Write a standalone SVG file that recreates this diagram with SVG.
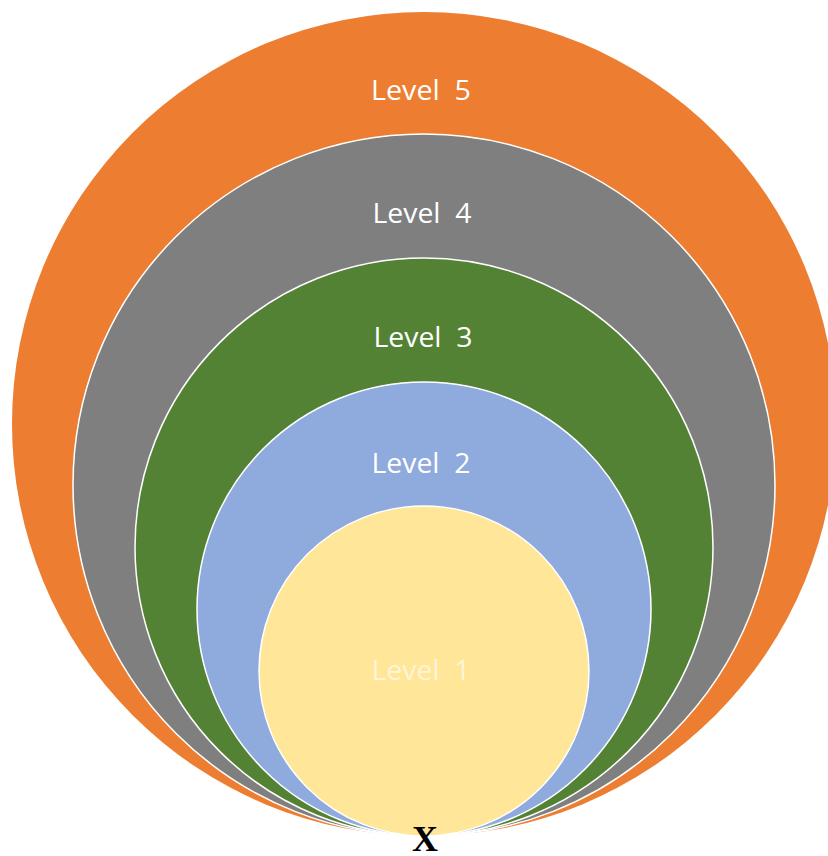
<svg xmlns="http://www.w3.org/2000/svg" width="828" height="856" viewBox="0 0 828 856">
<style>
.ring{stroke:#ffffff;stroke-width:1.5}
.lbl{font-family:"Open Sans","Noto Sans",sans-serif;font-size:28px;fill:#ffffff;text-anchor:middle;white-space:pre}
.x{font-family:"Liberation Serif",serif;font-size:36px;font-weight:bold;fill:#000000;text-anchor:middle}
</style>
<rect width="828" height="856" fill="#ffffff"/>
<g id="level5">
<circle cx="424" cy="424" r="412" fill="#ED7D31"/>
<text class="lbl" x="421" y="100" textLength="100" lengthAdjust="spacingAndGlyphs" xml:space="preserve">Level  5</text>
</g>
<g id="level4">
<circle class="ring" cx="424" cy="485" r="351" fill="#7F7F7F"/>
<text class="lbl" x="422" y="223" textLength="99" lengthAdjust="spacingAndGlyphs" xml:space="preserve">Level  4</text>
</g>
<g id="level3">
<circle class="ring" cx="424" cy="547" r="289" fill="#548235"/>
<text class="lbl" x="423" y="347" textLength="99" lengthAdjust="spacingAndGlyphs" xml:space="preserve">Level  3</text>
</g>
<g id="level2">
<circle class="ring" cx="424" cy="609" r="227" fill="#8FAADC"/>
<text class="lbl" x="421" y="473" textLength="99" lengthAdjust="spacingAndGlyphs" xml:space="preserve">Level  2</text>
</g>
<g id="level1">
<circle class="ring" cx="424" cy="671" r="165" fill="#FFE699"/>
<text class="lbl" x="421" y="680" textLength="99" lengthAdjust="spacingAndGlyphs" style="fill-opacity:0.6" xml:space="preserve">Level  1</text>
</g>
<g id="point">
<text class="x" x="425" y="851">X</text>
</g>
</svg>
